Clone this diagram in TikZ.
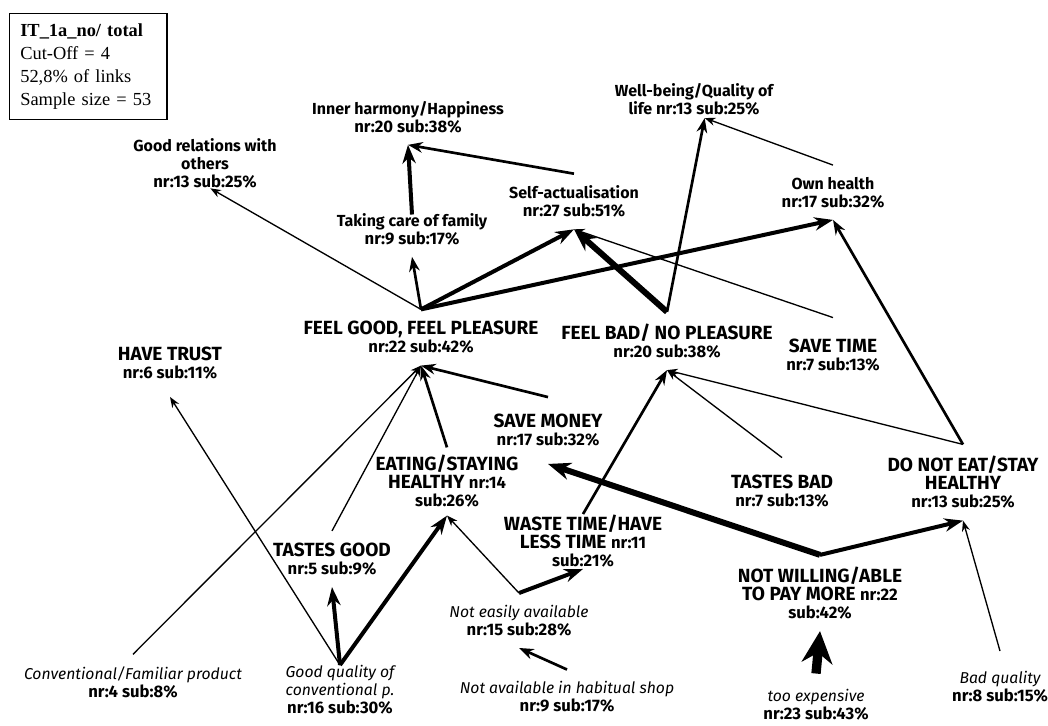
\documentclass[tikz,border=0pt]{standalone}
\usepackage{fontspec}
\usepackage{tikz}
\usetikzlibrary{arrows.meta}
\newfontfamily\comicfont{Fira Sans}
\newfontfamily\boxfont{Liberation Serif}
\newcommand{\nrsub}[1]{{\fontsize{12.5}{13.5}\selectfont\upshape\bfseries #1}}

\begin{document}
\begin{tikzpicture}[x=0.75pt,y=-0.75pt,
  lbl/.style={inner sep=0pt, outer xsep=0pt, outer ysep=9pt, align=center,
    font=\comicfont\bfseries\fontsize{14.3}{13.5}\selectfont},
  lblsm/.style={lbl, font=\comicfont\bfseries\fontsize{12}{13.5}\selectfont},
  cue/.style={lbl, font=\comicfont\itshape\fontsize{11.8}{13.5}\selectfont},
  a1/.style={line width=1pt, -{Stealth[length=8pt,width=6pt]}},
  a2/.style={line width=2pt, -{Stealth[length=11pt,width=8pt]}},
  a3/.style={line width=3pt, -{Stealth[length=14pt,width=10pt]}},
  a4/.style={line width=4.5pt, -{Stealth[length=17pt,width=13pt]}},
  a5/.style={line width=7pt, -{Stealth[length=24pt,width=23pt]}}]
\useasboundingbox (0,0) rectangle (1048,725);
% legend
\node[draw, line width=1pt, anchor=north west, align=left, inner xsep=8pt, inner ysep=0pt,
  text width=102pt, minimum height=79.5pt, font=\boxfont\fontsize{13.8}{17.25}\selectfont]
  (legend) at (9,13) {\textbf{IT\_1a\_no/ total}\\Cut-Off = 4\\52,8\% of links\\Sample size = 53};
% values
\node[lblsm, outer ysep=0pt] (gr) at (205,163.5) {Good relations with\\others\\\nrsub{nr:13 sub:25\%}};
\node[lblsm] (ih) at (408,117) {Inner harmony/Happiness\\\nrsub{nr:20 sub:38\%}};
\node[lblsm, outer ysep=2pt] (wb) at (694,99.5) {Well-being/Quality of\\life \nrsub{nr:13 sub:25\%}};
\node[lblsm] (own) at (833,192.5) {Own health\\\nrsub{nr:17 sub:32\%}};
\node[lblsm] (self) at (574,201.5) {Self-actualisation\\\nrsub{nr:27 sub:51\%}};
\node[lblsm] (care) at (412,229) {Taking care of family\\\nrsub{nr:9 sub:17\%}};
% consequences
\node[lbl] (fg) at (421,337.5) {FEEL GOOD, FEEL PLEASURE\\\nrsub{nr:22 sub:42\%}};
\node[lbl] (fb) at (667,341) {FEEL BAD/ NO PLEASURE\\\nrsub{nr:20 sub:38\%}};
\node[lbl, outer ysep=16pt] (time) at (833,355) {SAVE TIME\\\nrsub{nr:7 sub:13\%}};
\node[lbl, outer ysep=13pt] (trust) at (170,363.5) {HAVE TRUST\\\nrsub{nr:6 sub:11\%}};
\node[lbl, outer ysep=13pt] (money) at (548,430.5) {SAVE MONEY\\\nrsub{nr:17 sub:32\%}};
\node[lbl, outer ysep=6pt] (eat) at (447,481.5) {EATING/STAYING\\HEALTHY \nrsub{nr:14}\\\nrsub{sub:26\%}};
\node[lbl] (tg) at (332,559) {TASTES GOOD\\\nrsub{nr:5 sub:9\%}};
\node[lbl, outer ysep=1pt] (waste) at (583,541.5) {WASTE TIME/HAVE\\LESS TIME \nrsub{nr:11}\\\nrsub{sub:21\%}};
\node[lbl, outer ysep=13pt] (tb) at (782,491) {TASTES BAD\\\nrsub{nr:7 sub:13\%}};
\node[lbl] (dne) at (963,482.5) {DO NOT EAT/STAY\\HEALTHY\\\nrsub{nr:13 sub:25\%}};
\node[lbl] (nw) at (820,593) {NOT WILLING/ABLE\\TO PAY MORE \nrsub{nr:22}\\\nrsub{sub:42\%}};
% attributes
\node[cue] (nea) at (519,620.5) {Not easily available\\\nrsub{nr:15 sub:28\%}};
\node[cue] (shop) at (567,697) {Not available in habitual shop\\\nrsub{nr:9 sub:17\%}};
\node[cue] (conv) at (133,682) {Conventional/Familiar product\\\nrsub{nr:4 sub:8\%}};
\node[cue, outer ysep=0pt] (gq) at (340,689.5) {Good quality of\\conventional p.\\\nrsub{nr:16 sub:30\%}};
\node[cue, outer ysep=12pt] (exp) at (816,705) {too expensive\\\nrsub{nr:23 sub:43\%}};
\node[cue, outer ysep=15pt] (bad) at (1000,686.5) {Bad quality\\\nrsub{nr:8 sub:15\%}};
% links
\draw[a1] (gq.north) -- (trust.south);
\draw[a1] (conv.north) -- (fg.south);
\draw[a1] (tg.north) -- (fg.south);
\draw[a2] (eat.north) -- (fg.south);
\draw[a2] (money.north) -- (fg.south);
\draw[a3] (gq.north) -- (tg.south);
\draw[a3] (gq.north) -- (eat.south);
\draw[a1] (nea.north) -- (eat.south);
\draw[a3] (nea.north) -- (waste.south);
\draw[a2] (shop.north) -- (nea.south);
\draw[a2] (waste.north) -- (fb.south);
\draw[a1] (tb.north) -- (fb.south);
\draw[a1] (dne.north) -- (fb.south);
\draw[a2] (dne.north) -- (own.south);
\draw[a3] (nw.north) -- (dne.south);
\draw[a4] (nw.north) -- (money.south);
\draw[a5] (exp.north) -- (nw.south);
\draw[a1] (bad.north) -- (dne.south);
\draw[a2] (fg.north) -- (care.south);
\draw[a1] (fg.north) -- ([xshift=4pt]gr.south);
\draw[a3] (fg.north) -- (self.south);
\draw[a3] (fg.north) -- (own.south);
\draw[a4] (fb.north) -- (self.south);
\draw[a2] (fb.north) -- ([xshift=8pt]wb.south);
\draw[a1] (time.north) -- (self.south);
\draw[a2] (self.north) -- (ih.south);
\draw[a3] ([yshift=-10pt]care.north) -- (ih.south);
\draw[a1] (own.north) -- ([xshift=8pt]wb.south);
\end{tikzpicture}
\end{document}
